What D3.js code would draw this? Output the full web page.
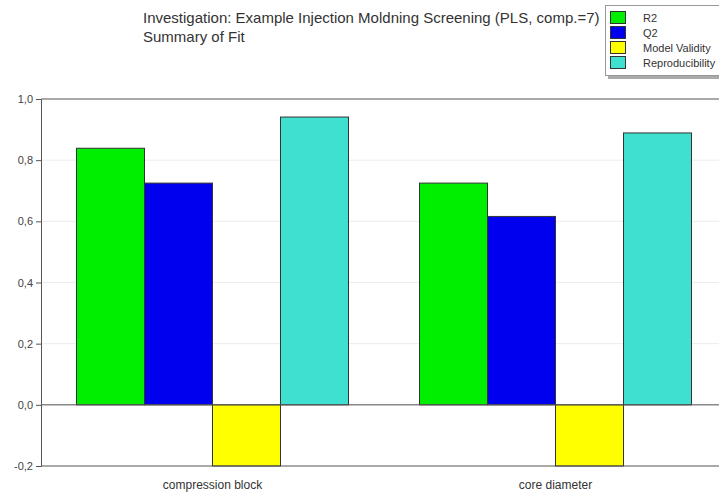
<!DOCTYPE html>
<html><head><meta charset="utf-8">
<script src="https://cdn.jsdelivr.net/npm/d3@7"></script>
<style>body{margin:0;background:#fff;}svg{display:block;font-family:Arial,"Liberation Sans",sans-serif;}</style>
</head><body><svg id="c" width="719" height="494"></svg>
<script>
const categories = ["compression block", "core diameter"];
const seriesNames = ["R2", "Q2", "Model Validity", "Reproducibility"];
const seriesColors = ["#00ee00", "#0000ee", "#ffff00", "#40e0d0"];
const r2 = [0.839, 0.725];
const q2 = [0.725, 0.616];
const modelValidity = [-0.2, -0.2];
const reproducibility = [0.941, 0.889];
const yTicks = [-0.2, 0, 0.2, 0.4, 0.6, 0.8, 1.0];
const titleLines = ["Investigation: Example Injection Moldning Screening (PLS, comp.=7)", "Summary of Fit"];

const series = [r2, q2, modelValidity, reproducibility];
const svg = d3.select("#c");
const L = 41, R = 727, T = 99, B = 466;
const y = d3.scaleLinear().domain([-0.2, 1.0]).range([B, T]);
const x0 = d3.scaleBand().domain(categories).range([L, R]).paddingInner(0.2070).paddingOuter(0.1035);
const x1 = d3.scaleBand().domain(seriesNames).range([0, x0.bandwidth()]);

// grid
svg.append("g").selectAll("line").data(yTicks.slice(1, -1)).join("line")
  .attr("x1", L).attr("x2", 719).attr("y1", d => y(d)).attr("y2", d => y(d))
  .attr("stroke", "#ececec").attr("stroke-width", 1);

// bars
const g = svg.append("g");
categories.forEach((c, ci) => {
  seriesNames.forEach((s, si) => {
    const v = series[si][ci];
    g.append("rect")
      .attr("x", x0(c) + x1(s)).attr("width", x1.bandwidth())
      .attr("y", y(Math.max(0, v))).attr("height", Math.abs(y(v) - y(0)))
      .attr("fill", seriesColors[si]).attr("stroke", "#333").attr("stroke-width", 1);
  });
});

// frame lines
svg.append("line").attr("x1", L).attr("x2", 719).attr("y1", T).attr("y2", T).attr("stroke", "#555");
svg.append("line").attr("x1", L).attr("x2", 719).attr("y1", y(0)).attr("y2", y(0)).attr("stroke", "#555");
svg.append("line").attr("x1", L).attr("x2", 719).attr("y1", B).attr("y2", B).attr("stroke", "#555");

// y axis
const fmt = d => d3.format(".1f")(d).replace(".", ",").replace("−", "-");
const ya = svg.append("g").attr("transform", `translate(${L},0)`)
  .call(d3.axisLeft(y).tickValues(yTicks).tickFormat(fmt).tickSize(5).tickPadding(3));
ya.select(".domain").attr("stroke", "#555");
ya.selectAll(".tick line").attr("stroke", "#555");
ya.selectAll("text").attr("fill", "#444").attr("font-size", 11).attr("font-family", "Arial, 'Liberation Sans', sans-serif");

// x labels
svg.append("g").selectAll("text").data(categories).join("text")
  .attr("x", d => x0(d) + x0.bandwidth() / 2).attr("y", 489)
  .attr("text-anchor", "middle").attr("font-size", 12).attr("fill", "#333").text(d => d);

// title
svg.append("g").selectAll("text").data(titleLines).join("text")
  .attr("x", 143).attr("y", (d, i) => 23 + i * 19).attr("font-size", 15).attr("fill", "#333").text(d => d);

// legend
const lg = svg.append("g");
lg.append("rect").attr("x", 608).attr("y", 76).attr("width", 112).attr("height", 3).attr("fill", "#aaa");
lg.append("rect").attr("x", 605.5).attr("y", 5.5).attr("width", 120).attr("height", 70).attr("fill", "#fff").attr("stroke", "#999");
seriesNames.forEach((s, i) => {
  lg.append("rect").attr("x", 610.5).attr("y", 11.5 + i * 15).attr("width", 15).attr("height", 12)
    .attr("fill", seriesColors[i]).attr("stroke", "#333");
  lg.append("text").attr("x", 643).attr("y", 21.5 + i * 15).attr("font-size", 11).attr("fill", "#333").text(s);
});
</script></body></html>
